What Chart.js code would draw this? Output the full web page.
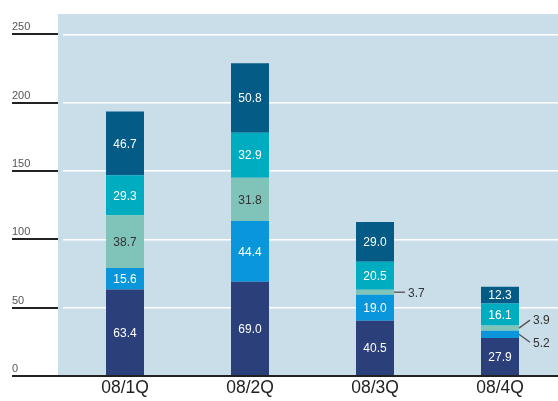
<!DOCTYPE html>
<html>
<head>
<meta charset="utf-8">
<script src="https://cdn.jsdelivr.net/npm/chart.js@4/dist/chart.umd.min.js"></script>
<style>
  html, body { margin: 0; padding: 0; background: #fff; overflow: hidden; }
  #wrap { width: 563px; height: 401px; }
</style>
</head>
<body>
<div id="wrap"><canvas id="chart"></canvas></div>
<script>
//----- Data -----//

var categories = ['08/1Q', '08/2Q', '08/3Q', '08/4Q']
var seriesA = [63.4, 69.0, 40.5, 27.9]
var seriesB = [15.6, 44.4, 19.0, 5.2]
var seriesC = [38.7, 31.8, 3.7, 3.9]
var seriesD = [29.3, 32.9, 20.5, 16.1]
var seriesE = [46.7, 50.8, 29.0, 12.3]
var yTicks = [0, 50, 100, 150, 200, 250]

//----- Styles -----//

var colors = ['#2b3f7b', '#0a96db', '#7fc3b9', '#00adc0', '#035b86']
var labelColors = ['#fff', '#fff', '#333', '#fff', '#fff']
var font = '"Liberation Sans", Arial, sans-serif'

//----- Plugin: background, axis, labels -----//

var decor = {
    id: 'decor',
    beforeDraw(chart) {
        var ctx = chart.ctx
        var a = chart.chartArea
        ctx.save()
        ctx.fillStyle = '#cadeea'
        ctx.fillRect(58, a.top, chart.width - 58, a.bottom - a.top)
        ctx.restore()
    },
    afterDatasetsDraw(chart) {
        var ctx = chart.ctx
        var y = chart.scales.y
        ctx.save()

        // y tick labels and short dark lines
        ctx.font = '11px ' + font
        ctx.textAlign = 'left'
        ctx.textBaseline = 'bottom'
        yTicks.forEach(function (v) {
            var py = Math.round(y.getPixelForValue(v))
            ctx.strokeStyle = '#222'
            ctx.lineWidth = 2
            ctx.beginPath()
            ctx.moveTo(12, py)
            ctx.lineTo(v === 0 ? chart.width : 58, py)
            ctx.stroke()
            ctx.fillStyle = '#555'
            ctx.fillText(String(v), 12, py - 2)
        })

        // value labels
        ctx.font = '12px ' + font
        chart.data.datasets.forEach(function (ds, di) {
            var meta = chart.getDatasetMeta(di)
            meta.data.forEach(function (bar, i) {
                var v = ds.data[i]
                var cy = (bar.y + bar.base) / 2
                if (v >= 6) {
                    ctx.fillStyle = labelColors[di]
                    ctx.textAlign = 'center'
                    ctx.textBaseline = 'middle'
                    ctx.fillText(v.toFixed(1), bar.x, cy + 1)
                    return
                }
                // small segments get a leader line
                var smallCount = chart.data.datasets.filter(function (d) { return d.data[i] < 6 }).length
                var x0 = bar.x + bar.width / 2
                var x1 = x0 + 11
                var ty = cy
                if (smallCount > 1) {
                    ty = di === 1 ? cy + 8 : cy - 8
                }
                ctx.strokeStyle = '#555'
                ctx.lineWidth = 1.3
                ctx.beginPath()
                ctx.moveTo(x0, cy)
                ctx.lineTo(x1, ty)
                ctx.stroke()
                ctx.fillStyle = '#333'
                ctx.textAlign = 'left'
                ctx.textBaseline = 'middle'
                ctx.fillText(v.toFixed(1), x1 + 3, ty + 1)
            })
        })
        ctx.restore()
    }
}

//----- Chart -----//

var series = [seriesA, seriesB, seriesC, seriesD, seriesE]

new Chart(document.getElementById('chart'), {
    type: 'bar',
    data: {
        labels: categories,
        datasets: series.map(function (s, i) {
            return {
                data: s,
                backgroundColor: colors[i],
                borderWidth: 0,
                barPercentage: 0.304,
                categoryPercentage: 1
            }
        })
    },
    options: {
        responsive: true,
        maintainAspectRatio: false,
        animation: false,
        layout: { padding: { left: 62.5, right: 0.5, top: 14, bottom: 0 } },
        plugins: {
            legend: { display: false },
            tooltip: { enabled: false }
        },
        scales: {
            x: {
                stacked: true,
                grid: { display: false, drawTicks: false },
                border: { display: false },
                ticks: {
                    color: '#222',
                    padding: 2,
                    font: { size: 17.5, family: font }
                },
                afterFit: function (scale) { scale.height = 25 }
            },
            y: {
                stacked: true,
                min: 0,
                max: 265,
                border: { display: false },
                grid: {
                    drawTicks: false,
                    lineWidth: 1.5,
                    color: function (c) {
                        return yTicks.indexOf(c.tick.value) >= 0 ? '#ffffff' : 'rgba(0,0,0,0)'
                    }
                },
                ticks: { display: false, stepSize: 50 },
                afterFit: function (scale) { scale.width = 0 }
            }
        }
    },
    plugins: [decor]
})
</script>
</body>
</html>
